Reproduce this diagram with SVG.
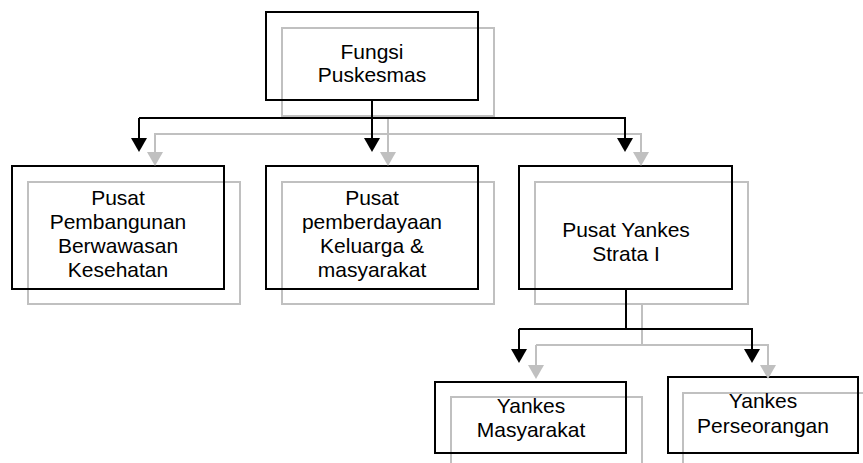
<svg xmlns="http://www.w3.org/2000/svg" width="863" height="463" viewBox="0 0 863 463">
<defs>
<style>
.bk{fill:none;stroke:#000;stroke-width:2}
.gr{fill:none;stroke:#c0c0c0;stroke-width:2}
text{font-family:"Liberation Sans",Arial,sans-serif;font-size:21px;fill:#000;text-anchor:middle}
</style>
<marker id="ab" viewBox="0 0 14 16" refX="0" refY="8" markerWidth="14" markerHeight="16" markerUnits="userSpaceOnUse" orient="auto"><path d="M0,0 L14,8 L0,16 z" fill="#000"/></marker>
<marker id="ag" viewBox="0 0 14 16" refX="0" refY="8" markerWidth="14" markerHeight="16" markerUnits="userSpaceOnUse" orient="auto"><path d="M0,0 L14,8 L0,16 z" fill="#c0c0c0"/></marker>
</defs>
<rect width="863" height="463" fill="#fff"/>
<g id="fungsi">
<rect class="gr" x="282" y="28" width="212" height="88"/>
<rect class="bk" x="266" y="12" width="212" height="88"/>
<text x="372" y="59">Fungsi</text>
<text x="372" y="82">Puskesmas</text>
</g>
<g id="pembangunan">
<rect class="gr" x="28" y="182" width="212" height="122"/>
<rect class="bk" x="12" y="166" width="212" height="123"/>
<text x="118" y="205">Pusat</text>
<text x="118" y="229">Pembangunan</text>
<text x="118" y="253">Berwawasan</text>
<text x="118" y="277">Kesehatan</text>
</g>
<g id="pemberdayaan">
<rect class="gr" x="282" y="182" width="212" height="122"/>
<rect class="bk" x="266" y="166" width="212" height="123"/>
<text x="372" y="205">Pusat</text>
<text x="372" y="229">pemberdayaan</text>
<text x="372" y="253">Keluarga &amp;</text>
<text x="372" y="277">masyarakat</text>
</g>
<g id="yankes-strata">
<rect class="gr" x="535" y="182" width="213" height="122"/>
<rect class="bk" x="519" y="166" width="213" height="123"/>
<text x="626" y="237">Pusat Yankes</text>
<text x="626" y="261">Strata I</text>
</g>
<g id="yankes-masyarakat">
<rect class="gr" x="451" y="397" width="191" height="80"/>
<rect class="bk" x="435" y="382" width="191" height="71"/>
<text x="531" y="413">Yankes</text>
<text x="531" y="437">Masyarakat</text>
</g>
<g id="yankes-perseorangan">
<rect class="gr" x="683" y="393" width="200" height="80"/>
<rect class="bk" x="668" y="377" width="190" height="76"/>
<text x="763" y="408">Yankes</text>
<text x="763" y="433">Perseorangan</text>
</g>
<g id="connectors">
<path class="gr" d="M388,116 V152" marker-end="url(#ag)"/>
<path class="gr" d="M155,152 V134 H641 V152" marker-end="url(#ag)"/>
<path class="gr" d="M155,134 V152" marker-end="url(#ag)"/>
<path class="gr" d="M642,304 V345"/>
<path class="gr" d="M536,345 H768 V365" marker-end="url(#ag)"/>
<path class="gr" d="M536,345 V365" marker-end="url(#ag)"/>
<path class="bk" d="M372,100 V138" marker-end="url(#ab)"/>
<path class="bk" d="M139,118 H625 V138" marker-end="url(#ab)"/>
<path class="bk" d="M139,118 V138" marker-end="url(#ab)"/>
<path class="bk" d="M626,289 V329"/>
<path class="bk" d="M519,329 H752 V349" marker-end="url(#ab)"/>
<path class="bk" d="M519,329 V349" marker-end="url(#ab)"/>
</g>
</svg>
